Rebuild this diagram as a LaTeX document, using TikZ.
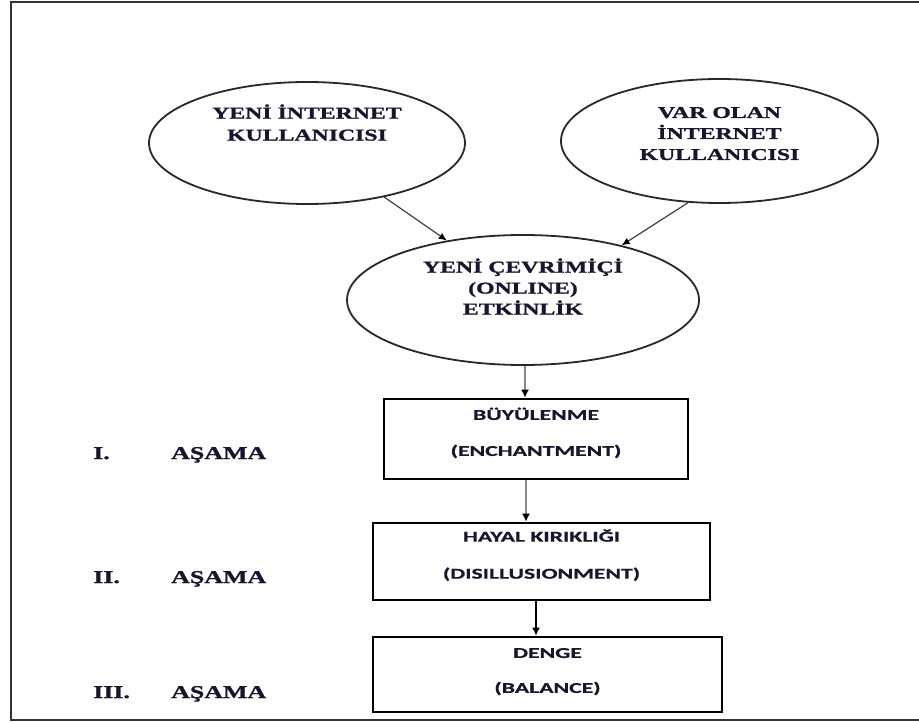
\documentclass[tikz,border=0pt]{standalone}
\usepackage{fontspec}
\usetikzlibrary{arrows.meta,shapes.geometric}
\newfontfamily\serifwide[FakeStretch=1.44,FakeBold=1.2]{Liberation Serif}
\newfontfamily\sanswide[FakeStretch=1.58,FakeBold=0.8]{Carlito}
\definecolor{txt}{RGB}{22,22,45}
\definecolor{ellline}{RGB}{40,40,40}
\definecolor{grayarrow}{RGB}{135,135,135}
\begin{document}
\begin{tikzpicture}[x=1pt,y=-1pt,
  oval/.style={ellipse, draw=ellline, line width=1.8pt, inner sep=0pt, align=center, text=txt,
    font=\serifwide\bfseries\fontsize{16.5}{21}\selectfont},
  stagebox/.style={rectangle, draw=black, line width=2.6pt, inner sep=0pt, align=center, text=txt,
    font=\sanswide\bfseries\fontsize{15}{36}\selectfont},
  stagelabel/.style={anchor=base west, inner sep=0pt, text=txt,
    font=\serifwide\bfseries\fontsize{18}{22}\selectfont},
  thinarrow/.style={draw=black!75, line width=1.2pt, -{Latex[length=8pt,width=7pt,color=black]}},
  grayflow/.style={draw=grayarrow, line width=2.6pt, -{Latex[length=8pt,width=8pt,color=black]}},
  blackflow/.style={draw=black, line width=2.4pt, -{Latex[length=8pt,width=8pt]}},
  frame/.style={draw=black!80, line width=2.6pt}
]
\useasboundingbox (0,0) rectangle (919,722);
\clip (0,0) rectangle (919,722);
\draw[frame] (11,2) rectangle (940,720);

\node[oval, minimum width=316pt, minimum height=122pt, text depth=41pt] (e1) at (307,143)
  {YENİ İNTERNET\\[1pt]KULLANICISI};
\node[oval, minimum width=317pt, minimum height=124pt, text depth=15pt] (e2) at (719.5,141)
  {VAR OLAN\\İNTERNET\\KULLANICISI};
\node[oval, minimum width=352pt, minimum height=130pt, text depth=27pt] (e3) at (523,300)
  {YENİ ÇEVRİMİÇİ\\(ONLINE)\\ETKİNLİK};

\node[stagebox, minimum width=304pt, minimum height=80pt, text depth=14.4pt] (b1) at (536,439)
  {BÜYÜLENME\\(ENCHANTMENT)};
\node[stagebox, minimum width=337pt, minimum height=77pt, text depth=15pt] (b2) at (541.5,561.5)
  {HAYAL KIRIKLIĞI\\[1pt](DISILLUSIONMENT)};
\node[stagebox, minimum width=349pt, minimum height=75pt, text depth=8pt] (b3) at (547.5,674.5)
  {DENGE\\[-1pt](BALANCE)};

\node[stagelabel] (n1) at (93,459) {I.};
\node[stagelabel] (a1) at (171,459) {AŞAMA};
\node[stagelabel] (n2) at (93,583) {II.};
\node[stagelabel] (a2) at (171,583) {AŞAMA};
\node[stagelabel] (n3) at (93,698) {III.};
\node[stagelabel] (a3) at (171,698) {AŞAMA};

\draw[thinarrow] (e1.-35) -- (e3.142);
\draw[thinarrow] (e2.-117) -- (e3.29);
\draw[grayflow] ([xshift=2pt]e3.south) -- ([xshift=2pt]e3.south |- b1.north);
\draw[grayflow] ([xshift=-10pt]b1.south) -- ([xshift=-10pt]b1.south |- b2.north);
\draw[blackflow] ([xshift=-5.5pt]b2.south) -- ([xshift=-5.5pt]b2.south |- b3.north);
\end{tikzpicture}
\end{document}
